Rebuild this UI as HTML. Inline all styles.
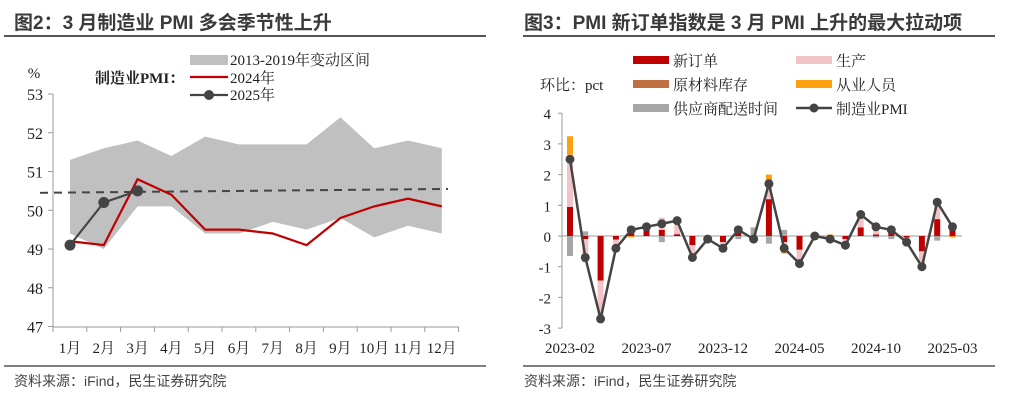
<!DOCTYPE html><html><head><meta charset="utf-8"><style>
body{margin:0;background:#fff;width:1009px;height:402px;overflow:hidden}
svg text{font-family:"Liberation Serif","Noto Serif CJK SC",serif;fill:#222}
.t{font-family:"Liberation Sans","Noto Sans CJK SC",sans-serif;font-weight:bold;font-size:19px;fill:#3a3a3a}
.s{font-family:"Liberation Sans","Noto Sans CJK SC",sans-serif;font-size:14px;fill:#444}
</style></head><body>
<svg id="g" width="1009" height="402" xmlns="http://www.w3.org/2000/svg">
<text x="14" y="29" class="t">图2：3 月制造业 PMI 多会季节性上升</text>
<line x1="4" y1="36" x2="486" y2="36" stroke="#555" stroke-width="2"/>
<text x="524" y="29" class="t">图3：PMI 新订单指数是 3 月 PMI 上升的最大拉动项</text>
<line x1="523" y1="36" x2="995" y2="36" stroke="#555" stroke-width="2"/>
<line x1="4" y1="366" x2="486" y2="366" stroke="#555" stroke-width="1.5"/>
<line x1="523" y1="366" x2="995" y2="366" stroke="#555" stroke-width="1.5"/>
<text x="14" y="386" class="s">资料来源：iFind，民生证券研究院</text>
<text x="524" y="386" class="s">资料来源：iFind，民生证券研究院</text>
</svg>
<script>
(function(){
const g=document.getElementById('g');let h='';
const Y=v=>94+(53-v)*38.75, X=i=>70+i*33.8;
const tp=[51.3,51.6,51.8,51.4,51.9,51.7,51.7,51.7,52.4,51.6,51.8,51.6];
const bt=[49.4,49.0,50.1,50.1,49.4,49.4,49.7,49.5,49.8,49.3,49.6,49.4];
let p=tp.map((v,i)=>X(i)+','+Y(v)).join(' ')+' '+bt.map((v,i)=>X(i)+','+Y(v)).reverse().join(' ');
h+=`<polygon points="${p}" fill="#c0c0c0"/>`;
h+=`<line x1="53" y1="94" x2="53" y2="327" stroke="#999"/><line x1="53" y1="327" x2="459" y2="327" stroke="#999"/>`;
for(let v=47;v<=53;v++){h+=`<line x1="48" x2="53" y1="${Y(v)}" y2="${Y(v)}" stroke="#999"/><text x="43" y="${Y(v)+6}" font-size="16" text-anchor="end">${v}</text>`}
for(let i=0;i<=12;i++){let x=53+i*33.8;h+=`<line x1="${x}" x2="${x}" y1="327" y2="332" stroke="#999"/>`}
for(let i=0;i<12;i++)h+=`<text x="${X(i)}" y="353" font-size="15" text-anchor="middle">${i+1}月</text>`;
h+=`<text x="34" y="78" font-size="15" text-anchor="middle">%</text>`;
h+=`<line x1="40" y1="${Y(50.45)}" x2="448" y2="${Y(50.55)}" stroke="#444" stroke-width="2" stroke-dasharray="8,6"/>`;
const a=[49.2,49.1,50.8,50.4,49.5,49.5,49.4,49.1,49.8,50.1,50.3,50.1];
h+=`<polyline points="${a.map((v,i)=>X(i)+','+Y(v)).join(' ')}" fill="none" stroke="#c00000" stroke-width="2.2"/>`;
const b=[49.1,50.2,50.5];
h+=`<polyline points="${b.map((v,i)=>X(i)+','+Y(v)).join(' ')}" fill="none" stroke="#444" stroke-width="2.2"/>`;
b.forEach((v,i)=>h+=`<circle cx="${X(i)}" cy="${Y(v)}" r="5.5" fill="#444"/>`);
h+=`<rect x="190" y="55" width="38" height="10" fill="#c0c0c0"/><text x="230" y="65" font-size="15">2013-2019年变动区间</text>`;
h+=`<text x="95" y="83" font-size="15" font-weight="bold">制造业PMI：</text>`;
h+=`<line x1="190" y1="77" x2="228" y2="77" stroke="#c00000" stroke-width="2.2"/><text x="230" y="83" font-size="15">2024年</text>`;
h+=`<line x1="190" y1="95" x2="228" y2="95" stroke="#444" stroke-width="2.2"/><circle cx="209" cy="95" r="5" fill="#444"/><text x="230" y="100" font-size="15">2025年</text>`;
const R=v=>236-v*30.7, XR=i=>570+i*15.3;
h+=`<line x1="562" y1="113" x2="562" y2="328" stroke="#999"/>`;
for(let v=-3;v<=4;v++){h+=`<line x1="558" x2="562" y1="${R(v)}" y2="${R(v)}" stroke="#999"/><text x="551" y="${R(v)+6}" font-size="15" text-anchor="end">${v}</text>`}
h+=`<line x1="562" y1="236" x2="962" y2="236" stroke="#999"/>`;
const pmi=[2.5,-0.7,-2.7,-0.4,0.2,0.3,0.4,0.5,-0.7,-0.1,-0.4,0.2,-0.1,1.7,-0.4,-0.9,0,-0.1,-0.3,0.7,0.3,0.2,-0.2,-1.0,1.1,0.3];
const no=[0.95,-0.1,-1.45,-0.12,0.1,0.2,0.2,0.06,-0.3,0,-0.2,0.1,-0.05,1.2,-0.2,-0.45,0,0,-0.1,0.28,0.05,0.1,-0.05,-0.5,0.55,0.2];
const pr=[1.7,-0.6,-1.3,-0.25,0.1,0.05,0.4,0.3,-0.4,-0.05,-0.15,0.15,-0.1,0.6,-0.3,-0.4,0,-0.05,-0.15,0.35,0.2,0.15,-0.1,-0.55,0.45,0.05];
const em=[0.6,-0.15,0,0,-0.05,0,0,0,0,0,0,0.05,-0.05,0.2,-0.07,0,0,0.05,0,0,0,0,0,0,0.15,-0.05];
const sp=[-0.65,0.15,0,0,0,0,-0.2,0,0,0,0,-0.1,0.28,-0.25,0.2,0,0,0,0,0,-0.05,-0.1,0,-0.05,-0.15,0];
for(let i=0;i<26;i++){let x=XR(i)-3,pos=0,neg=0;
 [[no[i],'#c00000'],[pr[i],'#f2c4c8'],[em[i],'#ffa010'],[sp[i],'#a6a6a6']].forEach(([v,c])=>{if(!v)return;let y0,y1;if(v>0){y0=pos;pos+=v;y1=pos}else{y0=neg;neg+=v;y1=neg}
 h+=`<rect x="${x}" y="${Math.min(R(y0),R(y1))}" width="6" height="${Math.abs(R(y0)-R(y1))}" fill="${c}"/>`})}
h+=`<polyline points="${pmi.map((v,i)=>XR(i)+','+R(v)).join(' ')}" fill="none" stroke="#444" stroke-width="2.5"/>`;
pmi.forEach((v,i)=>h+=`<circle cx="${XR(i)}" cy="${R(v)}" r="4.5" fill="#444"/>`);
['2023-02','2023-07','2023-12','2024-05','2024-10','2025-03'].forEach((t,k)=>h+=`<text x="${XR(k*5)}" y="353" font-size="15" text-anchor="middle">${t}</text>`);
h+=`<text x="540" y="90" font-size="15">环比：pct</text>`;
const L=[[633,62,'#c00000','新订单'],[796,62,'#f2c4c8','生产'],[633,86,'#c07040','原材料库存'],[796,86,'#ffa010','从业人员'],[633,110,'#a6a6a6','供应商配送时间']];
L.forEach(([x,y,c,t])=>h+=`<rect x="${x}" y="${y-6}" width="36" height="8" fill="${c}"/><text x="${x+40}" y="${y+4}" font-size="15">${t}</text>`);
h+=`<line x1="796" y1="108" x2="832" y2="108" stroke="#444" stroke-width="2.5"/><circle cx="814" cy="108" r="4.5" fill="#444"/><text x="836" y="114" font-size="15">制造业PMI</text>`;
g.insertAdjacentHTML('beforeend',h);
})();
</script>
</body></html>
